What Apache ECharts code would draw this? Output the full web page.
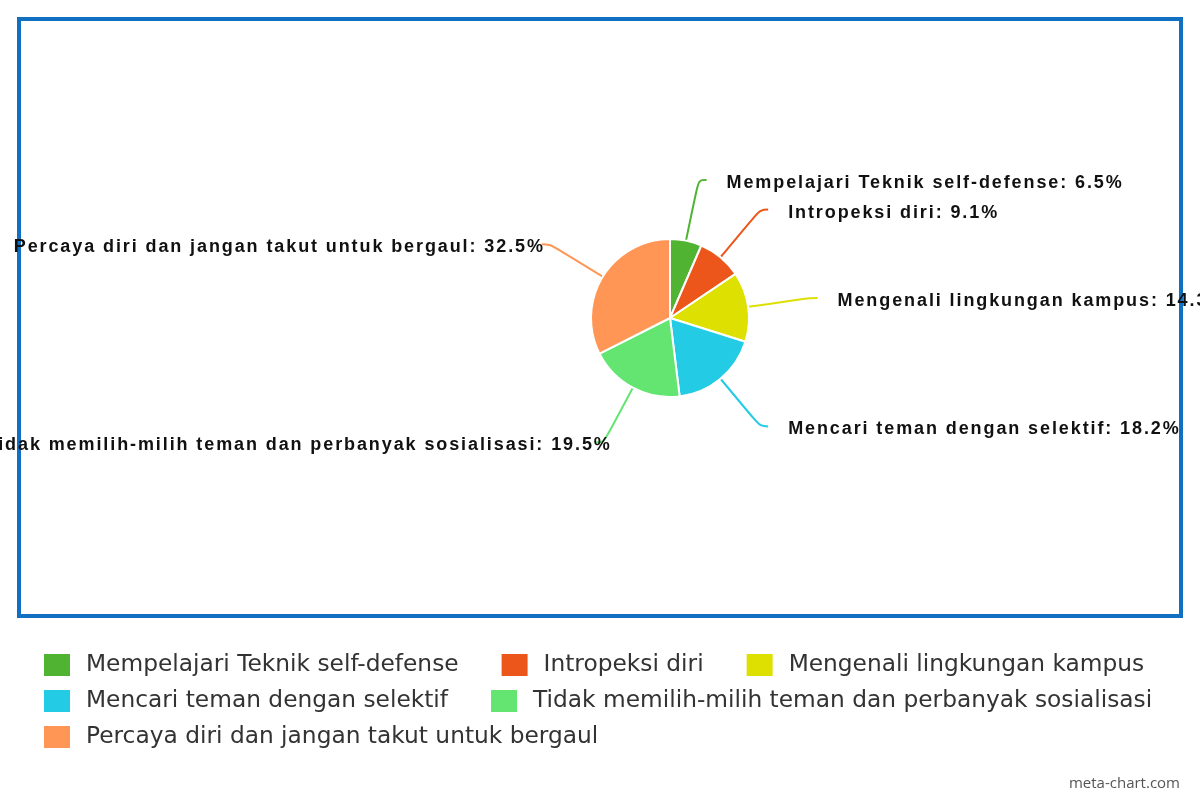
<!DOCTYPE html>
<html>
<head>
<meta charset="utf-8">
<script src="https://cdn.jsdelivr.net/npm/echarts@6/dist/echarts.min.js"></script>
<style>
html,body{margin:0;padding:0;background:#fff;}
#chart{width:1200px;height:800px;}
</style>
</head>
<body>
<div id="chart"></div>
<script>
const categories = [
  'Mempelajari Teknik self-defense',
  'Intropeksi diri',
  'Mengenali lingkungan kampus',
  'Mencari teman dengan selektif',
  'Tidak memilih-milih teman dan perbanyak sosialisasi',
  'Percaya diri dan jangan takut untuk bergaul'
];
const percentages = [6.5, 9.1, 14.3, 18.2, 19.5, 32.5];
const colors = ['#50b432', '#ed561b', '#dde000', '#24cbe5', '#64e572', '#ff9655'];

// the reference renders its bold slice labels with wide letter spacing
(function () {
  const P = CanvasRenderingContext2D.prototype;
  if (!('letterSpacing' in P)) return;
  const sp = ctx => (/bold|700/.test(ctx.font) ? '1.9px' : '0px');
  const ft = P.fillText, mt = P.measureText, st = P.strokeText;
  P.fillText = function () { this.letterSpacing = sp(this); return ft.apply(this, arguments); };
  P.strokeText = function () { this.letterSpacing = sp(this); return st.apply(this, arguments); };
  P.measureText = function () { this.letterSpacing = sp(this); return mt.apply(this, arguments); };
})();

const chart = echarts.init(document.getElementById('chart'));
chart.setOption({
  animation: false,
  color: colors,
  graphic: [
    {
      type: 'rect',
      shape: { x: 19, y: 19, width: 1162, height: 597 },
      style: { fill: 'none', stroke: '#1170c1', lineWidth: 4 },
      z: 0
    },
    {
      type: 'text',
      right: 20,
      top: 776,
      style: { text: 'meta-chart.com', fill: '#555', font: '15px "Open Sans", sans-serif' }
    }
  ],
  legend: {
    left: 42,
    top: 652,
    width: 1158,
    padding: 0,
    itemWidth: 28,
    itemHeight: 24,
    itemGap: 10,
    icon: 'rect',
    textStyle: {
      fontFamily: 'DejaVu Sans',
      fontSize: 23.3,
      lineHeight: 24,
      color: '#333',
      padding: [0, 31, 0, 10]
    },
    data: categories
  },
  series: [{
    type: 'pie',
    center: [670, 318],
    radius: 79,
    startAngle: 90,
    clockwise: true,
    avoidLabelOverlap: true,
    itemStyle: { borderColor: '#fff', borderWidth: 2 },
    label: {
      show: true,
      formatter: '{b}: {c}%',
      fontFamily: 'Liberation Sans, Arial',
      fontWeight: 'bold',
      fontSize: 18,
      color: '#111',
      offset: [0, 3],
      distanceToLabelLine: 20,
      overflow: 'none'
    },
    labelLine: {
      show: true,
      length: 62,
      length2: 8,
      smooth: 0.4,
      lineStyle: { width: 2 }
    },
    emphasis: { disabled: true },
    data: categories.map((name, i) => ({
      name: name,
      value: percentages[i],
      label: { distanceToLabelLine: i === 4 ? -16 : (i === 5 ? -3 : 20) }
    }))
  }]
});
</script>
</body>
</html>
